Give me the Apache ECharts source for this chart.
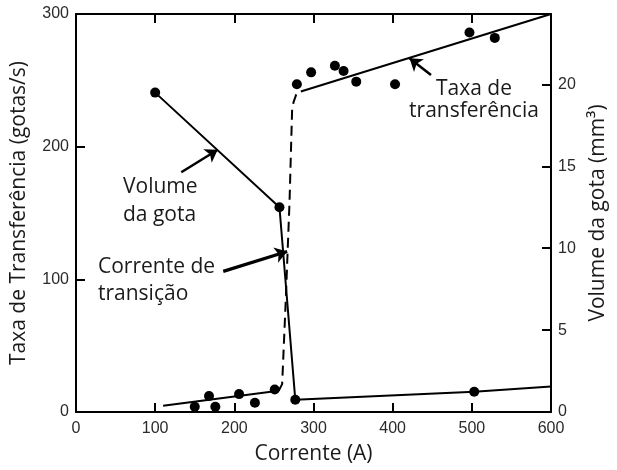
<!DOCTYPE html>
<html>
<head>
<meta charset="utf-8">
<script src="https://cdn.jsdelivr.net/npm/echarts@6/dist/echarts.min.js"></script>
<style>
html,body{margin:0;padding:0;background:#fff;}
#chart{width:617px;height:470px;}
</style>
</head>
<body>
<div id="chart"></div>
<script>
// Axis ticks
var xTicks = [0, 100, 200, 300, 400, 500, 600];
var leftTicks = [0, 100, 200, 300];
var rightTicks = [0, 5, 10, 15, 20];

// Taxa de transferência (gotas/s) - measured points
var rateCurrent = [150, 168, 176, 206, 226, 251, 279, 297, 327, 338, 354, 403, 497, 529];
var rateValue   = [4, 12, 4, 13.5, 7, 17, 247, 256, 261, 257, 249, 247, 286, 282];

// Taxa de transferência - fitted lines
var rateLowFit  = [[110, 4.7], [256, 16]];
var rateTransition = [[256, 16], [260.4, 21], [265, 85], [269.7, 158], [273, 228], [275, 234], [278, 239], [283, 241.5]];
var rateHighFit = [[284, 241.6], [600, 300]];

// Volume da gota (mm3)
var volCurrent = [100, 257, 277, 503];
var volValue   = [19.5, 12.5, 0.75, 1.24];
var volLineEnd = [600, 1.56];

var ratePts = rateCurrent.map(function (c, i) { return [c, rateValue[i]]; });
var volPts = volCurrent.map(function (c, i) { return [c, volValue[i]]; });
var volLine = volPts.concat([volLineEnd]);

function showOnly(list) {
  return function (v) { return list.indexOf(v) >= 0 ? String(v) : ''; };
}

var chart = echarts.init(document.getElementById('chart'), null, {renderer: 'canvas'});
var tickFont = {fontFamily: 'Liberation Sans', fontSize: 16, color: '#2a2a2a'};
var nameFont = {fontFamily: 'Open Sans', fontSize: 21, color: '#1a1a1a'};
function lineSt() { return {show: true, onZero: false, lineStyle: {color: '#000', width: 2}}; }
function tickStyle() { return {show: true, inside: true, length: 9, lineStyle: {color: '#000', width: 2}}; }

var arrowStyle = {color: '#000', width: 2.5, type: 'solid'};

chart.setOption({
  animation: false,
  backgroundColor: '#fff',
  grid: {left: 76, right: 63, top: 14, bottom: 57},
  xAxis: [{
    type: 'value', min: 0, max: 600, interval: 100, position: 'bottom',
    name: 'Corrente (A)', nameLocation: 'middle', nameGap: 32, nameTextStyle: nameFont,
    axisLine: lineSt(),
    axisTick: tickStyle(),
    axisLabel: Object.assign({margin: 9, formatter: showOnly(xTicks)}, tickFont),
    splitLine: {show: false}
  }, {
    type: 'value', min: 0, max: 600, interval: 100, position: 'top',
    axisLine: lineSt(),
    axisTick: tickStyle(),
    axisLabel: {show: false},
    splitLine: {show: false}
  }],
  yAxis: [{
    type: 'value', min: 0, max: 300, interval: 100, position: 'left',
    name: 'Taxa de Transferência (gotas/s)', nameLocation: 'middle', nameGap: 46, nameRotate: 90,
    nameTextStyle: nameFont,
    axisLine: lineSt(),
    axisTick: tickStyle(),
    axisLabel: Object.assign({margin: 7, formatter: showOnly(leftTicks)}, tickFont),
    splitLine: {show: false}
  }, {
    type: 'value', min: 0, max: 24.3, interval: 5, position: 'right',
    name: 'Volume da gota (mm³)', nameLocation: 'middle', nameGap: 37, nameRotate: 90,
    nameTextStyle: nameFont,
    axisLine: lineSt(),
    axisTick: tickStyle(),
    axisLabel: Object.assign({margin: 7, formatter: showOnly(rightTicks)}, tickFont),
    splitLine: {show: false}
  }],
  series: [{
    name: 'Taxa de transferência', type: 'scatter', xAxisIndex: 0, yAxisIndex: 0,
    data: ratePts, symbol: 'circle', symbolSize: 10, itemStyle: {color: '#000', opacity: 1}, z: 5,
    markLine: {
      silent: true, symbol: ['none', 'arrow'], symbolSize: 12, precision: 4,
      label: {show: false}, lineStyle: arrowStyle, emphasis: {disabled: true},
      itemStyle: {color: '#000'},
      data: [
        [{coord: [133, 180.7]}, {coord: [179, 197.7]}],
        [{coord: [448.4, 254]}, {coord: [421.3, 266.7]}],
        [{coord: [186, 106], lineStyle: {width: 3.2}}, {coord: [266.7, 121]}]
      ]
    }
  }, {
    type: 'line', xAxisIndex: 0, yAxisIndex: 0, data: rateLowFit, showSymbol: false,
    lineStyle: {color: '#000', width: 2}
  }, {
    type: 'line', xAxisIndex: 0, yAxisIndex: 0, data: rateTransition, showSymbol: false,
    lineStyle: {color: '#000', width: 2, type: [10, 6]}
  }, {
    type: 'line', xAxisIndex: 0, yAxisIndex: 0, data: rateHighFit, showSymbol: false,
    lineStyle: {color: '#000', width: 2}
  }, {
    name: 'Volume da gota', type: 'line', xAxisIndex: 0, yAxisIndex: 1, data: volLine, showSymbol: false,
    lineStyle: {color: '#000', width: 2}
  }, {
    type: 'scatter', xAxisIndex: 0, yAxisIndex: 1, data: volPts, symbol: 'circle', symbolSize: 10,
    itemStyle: {color: '#000', opacity: 1}, z: 5
  }],
  graphic: [
    {type: 'text', left: 123, top: 173, style: {text: 'Volume\nda gota', font: '21px "Open Sans"', fill: '#1a1a1a', lineHeight: 28}},
    {type: 'text', left: 98, top: 254, style: {text: 'Corrente de\ntransição', font: '21px "Open Sans"', fill: '#1a1a1a', lineHeight: 27}},
    {type: 'text', x: 474, y: 78, style: {text: 'Taxa de\ntransferência', font: '21px "Open Sans"', fill: '#1a1a1a', lineHeight: 22, align: 'center', verticalAlign: 'top'}}
  ]
});
</script>
</body>
</html>
